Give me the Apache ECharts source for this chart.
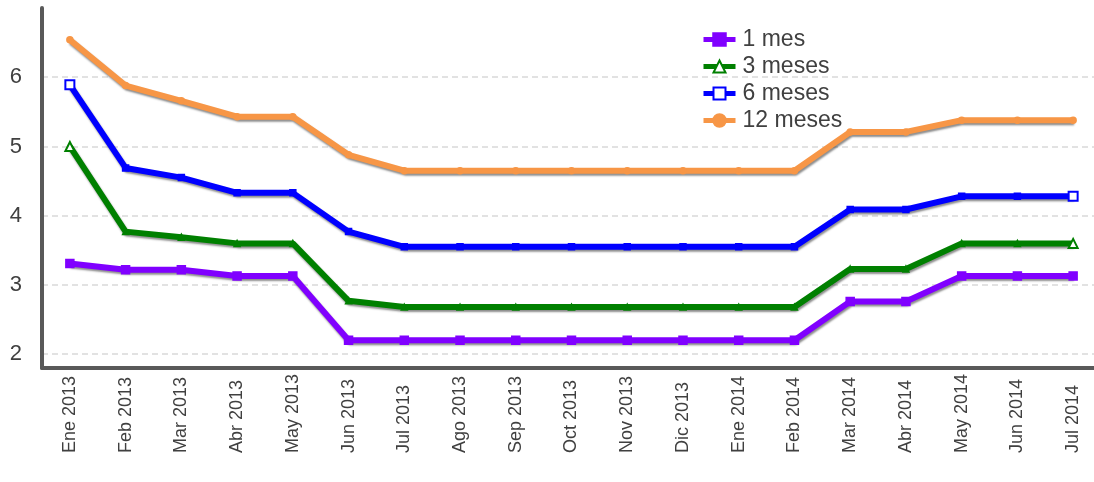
<!DOCTYPE html>
<html>
<head>
<meta charset="utf-8">
<script src="https://cdn.jsdelivr.net/npm/echarts@6/dist/echarts.min.js"></script>
<style>
  html, body { margin: 0; padding: 0; background: #fff; }
  #chart { width: 1094px; height: 482px; }
</style>
</head>
<body>
<div id="chart"></div>
<script>
const months = ['Ene 2013', 'Feb 2013', 'Mar 2013', 'Abr 2013', 'May 2013', 'Jun 2013', 'Jul 2013',
  'Ago 2013', 'Sep 2013', 'Oct 2013', 'Nov 2013', 'Dic 2013', 'Ene 2014', 'Feb 2014',
  'Mar 2014', 'Abr 2014', 'May 2014', 'Jun 2014', 'Jul 2014'];

const mes1 = [3.31, 3.22, 3.22, 3.13, 3.13, 2.2, 2.2, 2.2, 2.2, 2.2, 2.2, 2.2, 2.2, 2.2, 2.76, 2.76, 3.13, 3.13, 3.13];
const mes3 = [5.0, 3.77, 3.69, 3.6, 3.6, 2.77, 2.68, 2.68, 2.68, 2.68, 2.68, 2.68, 2.68, 2.68, 3.23, 3.23, 3.6, 3.6, 3.6];
const mes6 = [5.89, 4.69, 4.55, 4.33, 4.33, 3.77, 3.55, 3.55, 3.55, 3.55, 3.55, 3.55, 3.55, 3.55, 4.09, 4.09, 4.28, 4.28, 4.28];
const mes12 = [6.54, 5.88, 5.66, 5.43, 5.43, 4.88, 4.65, 4.65, 4.65, 4.65, 4.65, 4.65, 4.65, 4.65, 5.21, 5.21, 5.38, 5.38, 5.38];

const yTicks = [2, 3, 4, 5, 6];

const chart = echarts.init(document.getElementById('chart'));
const font = 'Liberation Sans, Arial, sans-serif';

const shadow = {
  shadowColor: 'rgba(0, 0, 0, 0.45)',
  shadowBlur: 2,
  shadowOffsetX: 1,
  shadowOffsetY: 2
};

// series symbol (hollow) shows at both ends and in the legend, inner points get a small filled one
const withInnerSymbol = (data, inner) => data.map((v, i) =>
  (i === 0 || i === data.length - 1) ? v : { value: v, symbol: inner, symbolSize: 6 });

const makeSeries = (name, data, color, symbol, symbolSize) => ({
  name,
  type: 'line',
  data,
  symbol,
  symbolSize,
  showAllSymbol: true,
  lineStyle: { width: 6, color, ...shadow },
  itemStyle: { color, borderColor: color, borderWidth: 1.5 }
});

chart.setOption({
  animation: false,
  grid: {
    left: 42,
    right: -7,
    top: 8,
    bottom: 114,
    outerBoundsMode: 'none'
  },
  legend: {
    orient: 'vertical',
    left: 696,
    top: 23,
    itemGap: 4,
    itemWidth: 32,
    itemHeight: 15,
    lineStyle: { width: 5 },
    itemStyle: { borderWidth: 2.5 },
    textStyle: { color: '#404040', fontSize: 23, fontFamily: font, padding: [0, 0, 0, 2] },
    data: ['1 mes', '3 meses', '6 meses', '12 meses']
  },
  xAxis: {
    type: 'category',
    data: months,
    boundaryGap: true,
    axisLine: { lineStyle: { color: '#595959', width: 4 } },
    axisTick: { show: false },
    axisLabel: {
      rotate: 90,
      align: 'left',
      margin: 85,
      color: '#404040',
      fontSize: 18,
      fontFamily: font,
      interval: 0
    }
  },
  yAxis: {
    type: 'value',
    min: 1.8,
    max: 7,
    axisLine: { show: true, lineStyle: { color: '#595959', width: 4 } },
    axisTick: { show: false, customValues: yTicks },
    axisLabel: {
      customValues: yTicks,
      color: '#404040',
      fontSize: 22,
      margin: 20,
      fontFamily: font
    },
    splitLine: { lineStyle: { color: '#d9d9d9', width: 1.5, type: [6, 4] } }
  },
  series: [
    makeSeries('1 mes', mes1, '#8000ff', 'rect', 8),
    makeSeries('3 meses', withInnerSymbol(mes3, 'triangle'), '#008000', 'emptyTriangle', 9),
    makeSeries('6 meses', withInnerSymbol(mes6, 'rect'), '#0000ff', 'emptyRect', 9),
    makeSeries('12 meses', mes12, '#f79646', 'circle', 6)
  ]
});
</script>
</body>
</html>
